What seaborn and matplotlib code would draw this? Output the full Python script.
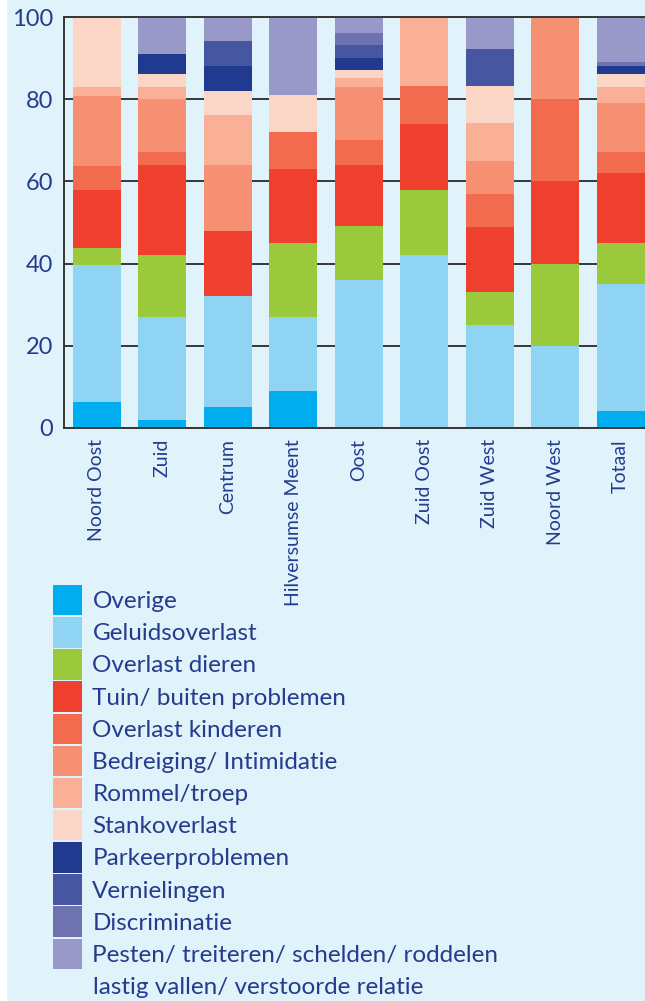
import matplotlib
matplotlib.use("Agg")

import numpy as np
import pandas as pd
import matplotlib.pyplot as plt
import seaborn as sns
from matplotlib.patches import Patch, Rectangle

# wijken (x-as) en soorten overlast (stapels, van onder naar boven)
WIJKEN = ["Noord Oost", "Zuid", "Centrum", "Hilversumse Meent", "Oost",
          "Zuid Oost", "Zuid West", "Noord West", "Totaal"]
CATEGORIEEN = ["Overige", "Geluidsoverlast", "Overlast dieren", "Tuin/ buiten problemen",
               "Overlast kinderen", "Bedreiging/ Intimidatie", "Rommel/troep", "Stankoverlast",
               "Parkeerproblemen", "Vernielingen", "Discriminatie",
               "Pesten/ treiteren/ schelden/ roddelen"]
LAATSTE_REGEL = "lastig vallen/ verstoorde relatie"

OVERIGE = [6.3, 1.9, 5.1, 9.0, 0, 0, 0, 0, 4.1]
GELUID = [33.3, 25.1, 27.0, 18.0, 36.0, 42.1, 25.0, 20.0, 30.9]
DIEREN = [4.2, 15.1, 0, 18.0, 13.1, 15.8, 8.1, 20.0, 10.0]
TUIN = [14.1, 21.8, 15.8, 18.0, 14.8, 16.0, 15.8, 20.0, 17.0]
KINDEREN = [5.8, 3.2, 0, 9.0, 6.1, 9.2, 8.0, 20.0, 5.1]
BEDREIGING = [17.0, 12.9, 16.0, 0, 12.9, 0, 8.0, 20.0, 11.9]
ROMMEL = [2.2, 2.9, 12.2, 0, 2.2, 16.9, 9.2, 0, 3.9]
STANK = [17.1, 3.2, 5.8, 9.0, 1.9, 0, 9.0, 0, 3.2]
PARKEER = [0, 4.9, 6.1, 0, 3.0, 0, 0, 0, 1.9]
VERNIELING = [0, 0, 6.1, 0, 3.1, 0, 9.0, 0, 0]
DISCRIMINATIE = [0, 0, 0, 0, 2.9, 0, 0, 0, 1.0]
PESTEN = [0, 9.0, 5.9, 19.0, 4.0, 0, 7.9, 0, 11.0]

KLEUREN = ["#00AEEF", "#8FD4F2", "#9AC93B", "#EE3F2F", "#F26B4E", "#F59072",
           "#F9B097", "#FBD5C5", "#1F3A8F", "#4756A1", "#6E73B0", "#9898C9"]
Y_TICKS = [0, 20, 40, 60, 80, 100]

TEXT = "#253B8E"
LINE = "#363636"
BG = "#E0F3FA"

sns.set_theme(style="white")
plt.rcParams["font.family"] = ["Lato", "DejaVu Sans"]

series = [OVERIGE, GELUID, DIEREN, TUIN, KINDEREN, BEDREIGING, ROMMEL, STANK,
          PARKEER, VERNIELING, DISCRIMINATIE, PESTEN]
df = pd.DataFrame({
    "wijk": WIJKEN * len(CATEGORIEEN),
    "categorie": np.repeat(CATEGORIEEN, len(WIJKEN)),
    "aandeel": np.concatenate(series),
})
palette = dict(zip(CATEGORIEEN, KLEUREN))

fig = plt.figure(figsize=(6.45, 10.01), dpi=100, facecolor="white")
fig.patches.append(Rectangle((7 / 645, 0), 1, 1, transform=fig.transFigure,
                             facecolor=BG, edgecolor="none", zorder=-10))
ax = fig.add_axes([64 / 645, 1 - 428 / 1001, 589.5 / 645, 411 / 1001])
ax.set_facecolor("none")

# hue_order omgekeerd: seaborn stapelt het eerste niveau bovenaan
sns.histplot(data=df, x="wijk", hue="categorie", weights="aandeel", multiple="stack",
             discrete=True, shrink=0.73, hue_order=CATEGORIEEN[::-1], palette=palette,
             alpha=1, linewidth=0, edgecolor="none", legend=False, ax=ax)

ax.set_xlim(-0.5, len(WIJKEN) - 0.5)
ax.set_ylim(0, 100)
ax.set_yticks(Y_TICKS)
ax.set_yticklabels([str(t) for t in Y_TICKS])
ax.set_xticks(range(len(WIJKEN)))
ax.set_xticklabels(WIJKEN, rotation=90, va="top", ha="center")
ax.set_xticks(np.arange(len(WIJKEN)) + 0.5, minor=True)
ax.tick_params(axis="x", which="major", length=0, pad=8, labelsize=14, labelcolor=TEXT)
ax.tick_params(axis="x", which="minor", direction="in", length=7, width=1.3, color=LINE)
ax.tick_params(axis="y", length=0, pad=8, labelsize=17, labelcolor=TEXT)
ax.set_xlabel("")
ax.set_ylabel("")
ax.set_axisbelow(True)
ax.yaxis.grid(True, color=LINE, linewidth=1.4)
for side in ["left", "bottom", "top"]:
    ax.spines[side].set_visible(True)
    ax.spines[side].set_color(LINE)
    ax.spines[side].set_linewidth(1.4)
ax.spines["right"].set_visible(False)

handles = [Patch(facecolor=c, edgecolor="none") for c in KLEUREN]
fig.legend(handles, CATEGORIEEN, loc="upper left", bbox_to_anchor=(53 / 645, 1 - 585 / 1001),
           frameon=False, fontsize=17.5, labelcolor=TEXT, handlelength=1.2, handleheight=1.55,
           handletextpad=0.42, labelspacing=0.07, borderpad=0, borderaxespad=0)
# tweede regel van het laatste legenda-item
fig.text(93 / 645, 1 - 988 / 1001, LAATSTE_REGEL, fontsize=17.5, color=TEXT,
         ha="left", va="center")

fig.savefig("out.png", dpi=100, facecolor=fig.get_facecolor())
